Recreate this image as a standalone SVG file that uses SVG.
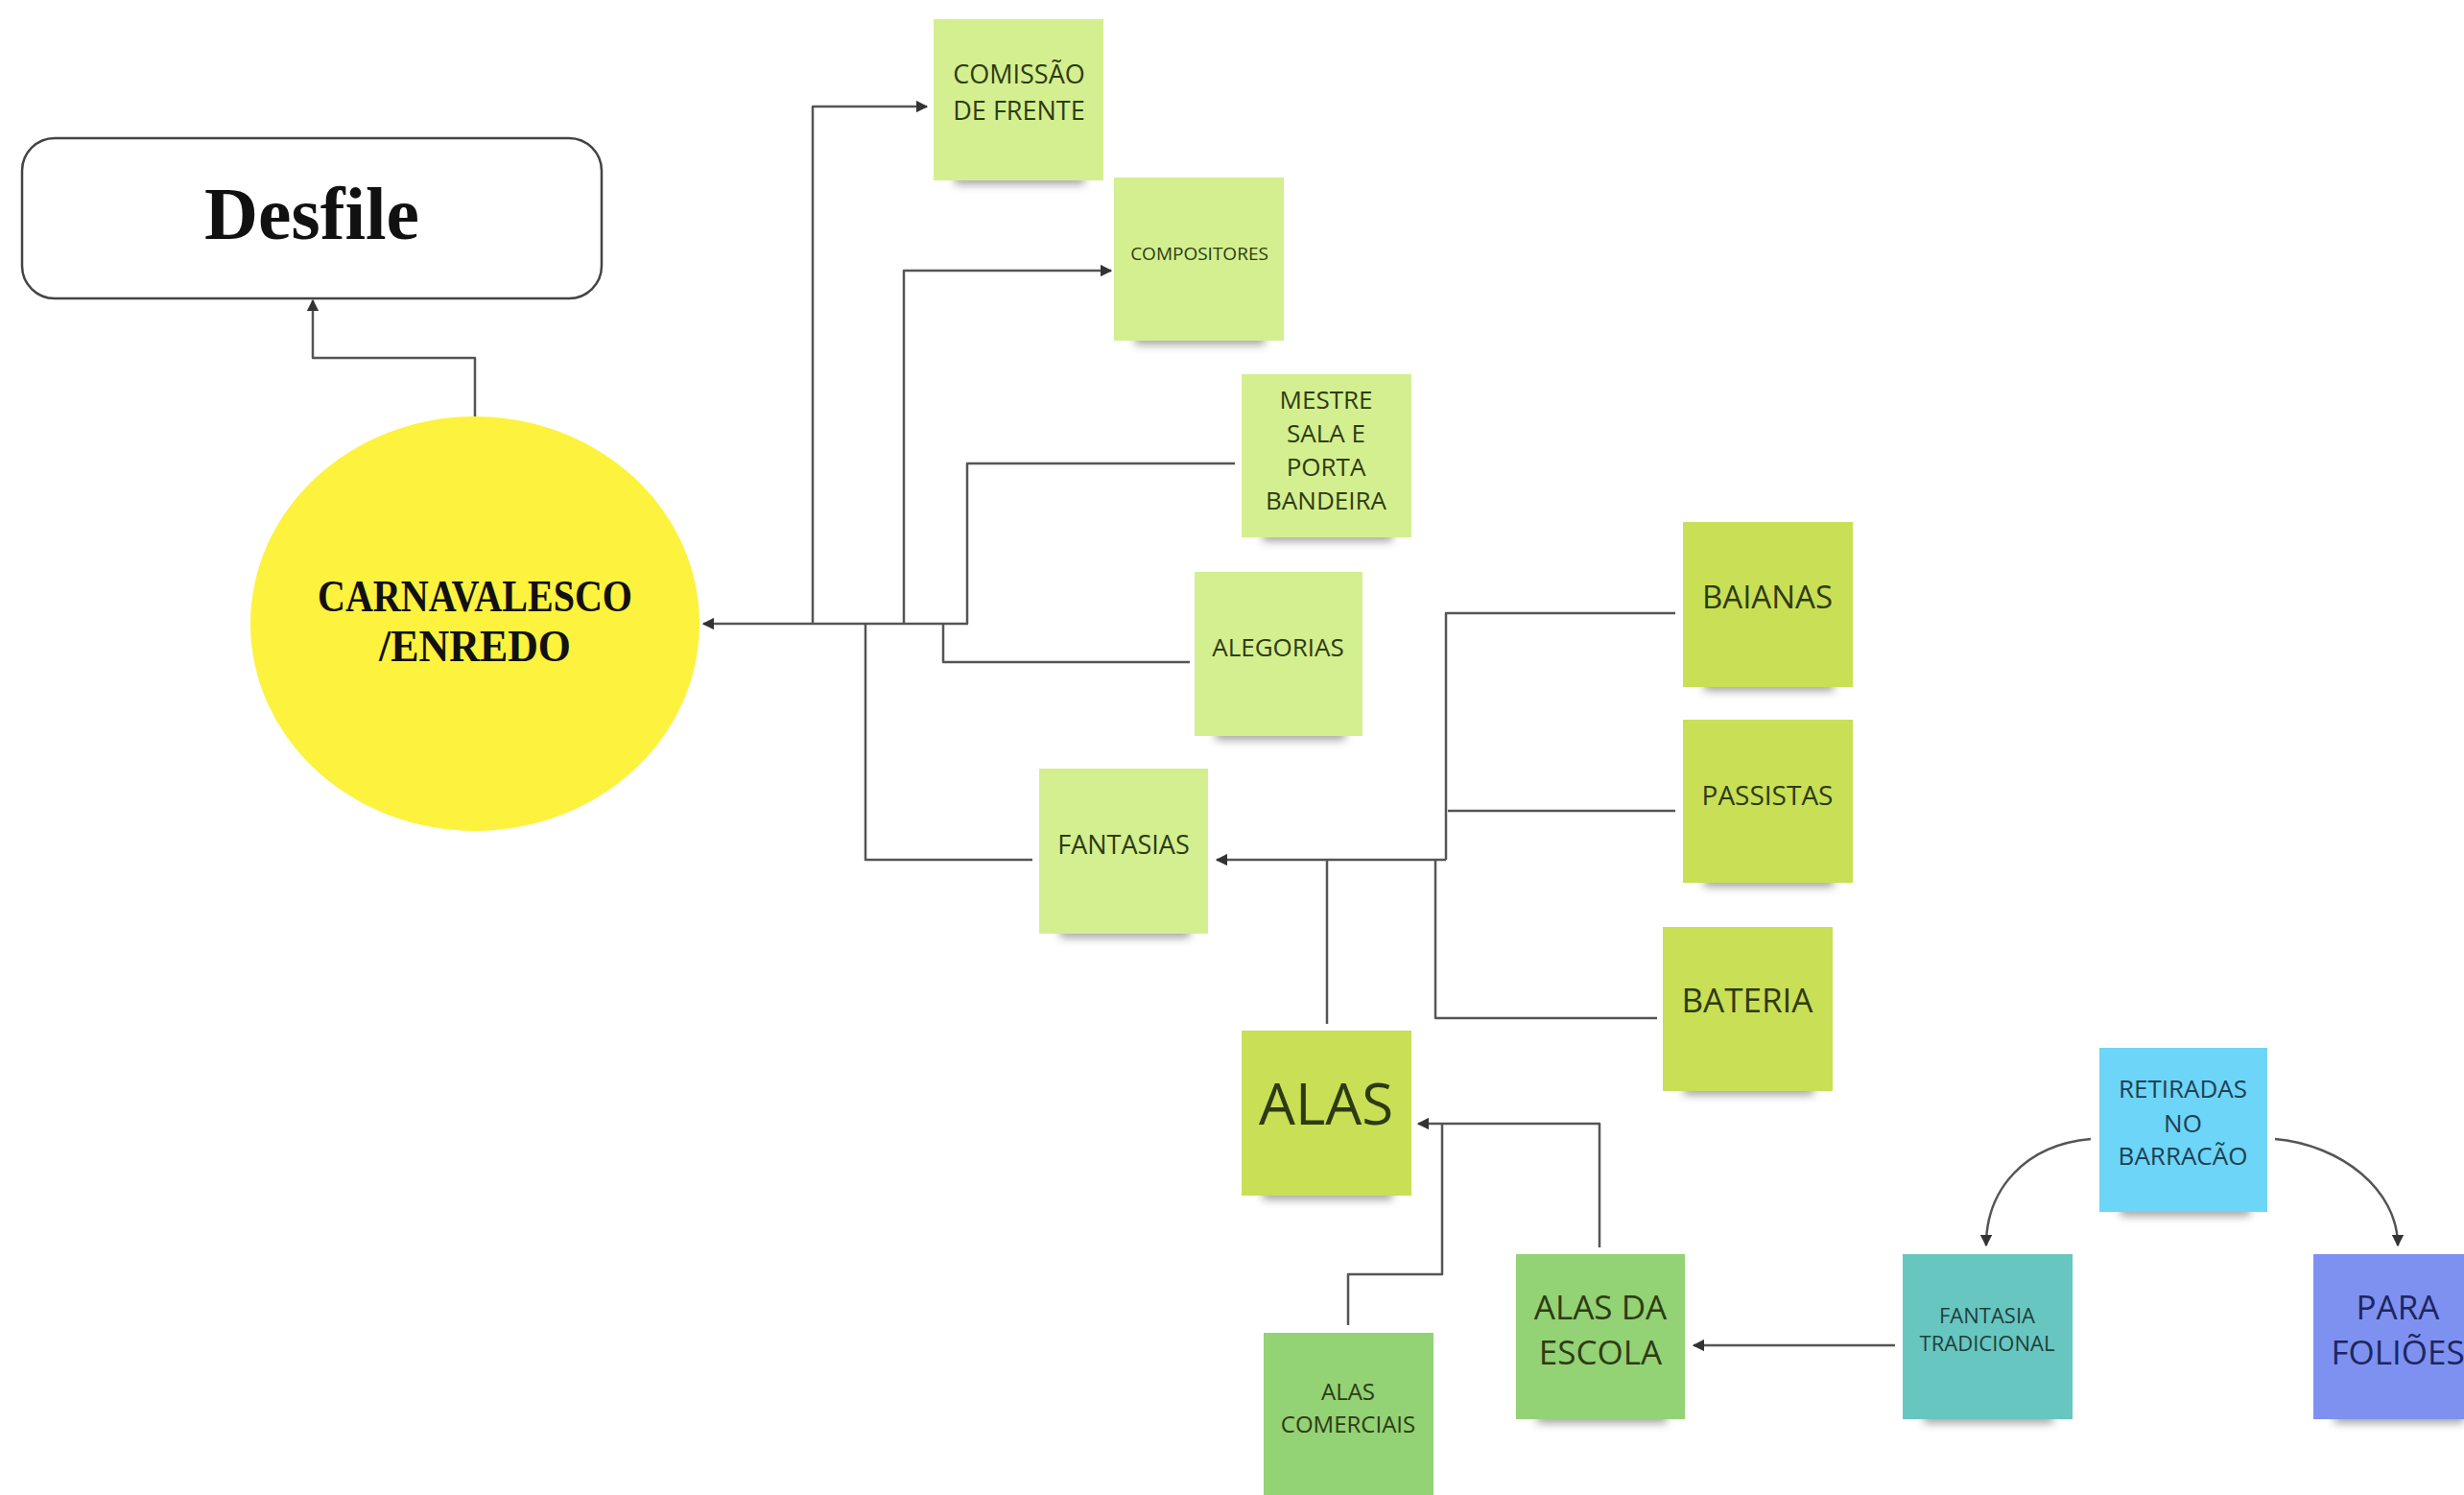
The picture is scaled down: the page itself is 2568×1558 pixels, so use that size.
<svg xmlns="http://www.w3.org/2000/svg" width="2568" height="1558" viewBox="0 0 2568 1558">
<style>
.note text{font-family:"Open Sans","Noto Sans","Liberation Sans",sans-serif;text-anchor:middle;}
.gt{fill:#2e3b12;}
.conn{fill:none;stroke:#555;stroke-width:2.5;stroke-linejoin:round;}
.serif{font-family:"Liberation Serif","DejaVu Serif",serif;font-weight:bold;fill:#111;text-anchor:middle;}
.lg{fill:#d4ef8f;}
.lime{fill:#c9df56;}
.grn{fill:#93d275;}
.teal{fill:#67c6c0;}
.sky{fill:#6dd5f7;}
.peri{fill:#7f91f0;}
.sh{fill:#444;opacity:0.5;filter:url(#blur);}
</style>
<defs>
<filter id="blur" x="-20%" y="-100%" width="140%" height="300%"><feGaussianBlur stdDeviation="5"/></filter>
<marker id="arr" viewBox="0 0 10 10" refX="9" refY="5" markerWidth="5" markerHeight="5" orient="auto" markerUnits="strokeWidth"><path d="M0,0 L10,5 L0,10 z" fill="#333"/></marker>
</defs>
<rect width="2568" height="1558" fill="#ffffff"/>

<g id="connectors">
<path class="conn" d="M495,434 V373 H326 V313" marker-end="url(#arr)"/>
<path class="conn" d="M1009,650 H733" stroke-width="3" marker-end="url(#arr)"/>
<path class="conn" d="M847,650 V111 H966" marker-end="url(#arr)"/>
<path class="conn" d="M942,650 V282 H1158" marker-end="url(#arr)"/>
<path class="conn" d="M1287,483 H1008 V650"/>
<path class="conn" d="M1240,690 H983 V650"/>
<path class="conn" d="M1076,896 H902 V650"/>
<path class="conn" d="M1507,896 H1268" stroke-width="3" marker-end="url(#arr)"/>
<path class="conn" d="M1746,639 H1507 V896"/>
<path class="conn" d="M1746,845 H1509"/>
<path class="conn" d="M1727,1061 H1496 V896"/>
<path class="conn" d="M1383,1067 V896"/>
<path class="conn" d="M1667,1300 V1171 H1478" marker-end="url(#arr)"/>
<path class="conn" d="M1405,1381 V1328 H1503 V1171"/>
<path class="conn" d="M1975,1402 H1765" marker-end="url(#arr)"/>
<path class="conn" d="M2179,1187 C2110,1193 2070,1240 2070,1298" marker-end="url(#arr)"/>
<path class="conn" d="M2371,1187 C2440,1193 2499,1240 2499,1298" marker-end="url(#arr)"/>
</g>

<g id="desfile">
<rect x="23" y="144" width="604" height="167" rx="34" fill="#fff" stroke="#444" stroke-width="2.5"/>
<text class="serif" x="325" y="249" font-size="78" textLength="224" lengthAdjust="spacingAndGlyphs">Desfile</text>
</g>

<g id="carnavalesco">
<ellipse cx="495" cy="650" rx="234" ry="216" fill="#fdf23d"/>
<text class="serif" x="495" y="637" font-size="47" textLength="328" lengthAdjust="spacingAndGlyphs">CARNAVALESCO</text>
<text class="serif" x="495" y="689" font-size="47" textLength="200" lengthAdjust="spacingAndGlyphs">/ENREDO</text>
</g>

<g id="comissao" class="note">
<rect class="sh" x="995" y="178" width="135" height="14"/>
<rect class="lg" x="973" y="20" width="177" height="168"/>
<text class="gt" x="1062" y="87" font-size="27">COMISSÃO</text>
<text class="gt" x="1062" y="125" font-size="27">DE FRENTE</text>
</g>

<g id="compositores" class="note">
<rect class="sh" x="1183" y="345" width="135" height="14"/>
<rect class="lg" x="1161" y="185" width="177" height="170"/>
<text class="gt" x="1250" y="271" font-size="19">COMPOSITORES</text>
</g>

<g id="mestre" class="note">
<rect class="sh" x="1316" y="550" width="135" height="14"/>
<rect class="lg" x="1294" y="390" width="177" height="170"/>
<text class="gt" x="1382" y="426" font-size="26">MESTRE</text>
<text class="gt" x="1382" y="461" font-size="26">SALA E</text>
<text class="gt" x="1382" y="496" font-size="26">PORTA</text>
<text class="gt" x="1382" y="531" font-size="26">BANDEIRA</text>
</g>

<g id="alegorias" class="note">
<rect class="sh" x="1267" y="757" width="135" height="14"/>
<rect class="lg" x="1245" y="596" width="175" height="171"/>
<text class="gt" x="1332" y="684" font-size="26">ALEGORIAS</text>
</g>

<g id="fantasias" class="note">
<rect class="sh" x="1105" y="963" width="135" height="14"/>
<rect class="lg" x="1083" y="801" width="176" height="172"/>
<text class="gt" x="1171" y="890" font-size="27">FANTASIAS</text>
</g>

<g id="baianas" class="note">
<rect class="sh" x="1776" y="706" width="135" height="14"/>
<rect class="lime" x="1754" y="544" width="177" height="172"/>
<text class="gt" x="1842" y="634" font-size="33">BAIANAS</text>
</g>

<g id="passistas" class="note">
<rect class="sh" x="1776" y="910" width="135" height="14"/>
<rect class="lime" x="1754" y="750" width="177" height="170"/>
<text class="gt" x="1842" y="839" font-size="28">PASSISTAS</text>
</g>

<g id="bateria" class="note">
<rect class="sh" x="1755" y="1127" width="135" height="14"/>
<rect class="lime" x="1733" y="966" width="177" height="171"/>
<text class="gt" x="1821" y="1055" font-size="35">BATERIA</text>
</g>

<g id="alas" class="note">
<rect class="sh" x="1316" y="1236" width="135" height="14"/>
<rect class="lime" x="1294" y="1074" width="177" height="172"/>
<text class="gt" x="1382" y="1172" font-size="60" fill="#1e260a">ALAS</text>
</g>

<g id="alas-escola" class="note">
<rect class="sh" x="1602" y="1469" width="135" height="14"/>
<rect class="grn" x="1580" y="1307" width="176" height="172"/>
<text class="gt" x="1668" y="1375" font-size="35">ALAS DA</text>
<text class="gt" x="1668" y="1422" font-size="35">ESCOLA</text>
</g>

<g id="alas-comerciais" class="note">
<rect class="grn" x="1317" y="1389" width="177" height="175"/>
<text class="gt" x="1405" y="1459" font-size="24">ALAS</text>
<text class="gt" x="1405" y="1493" font-size="24">COMERCIAIS</text>
</g>

<g id="fantasia-tradicional" class="note">
<rect class="sh" x="2005" y="1469" width="135" height="14"/>
<rect class="teal" x="1983" y="1307" width="177" height="172"/>
<text x="2071" y="1379" font-size="22" fill="#1f3f3c">FANTASIA</text>
<text x="2071" y="1408" font-size="22" fill="#1f3f3c">TRADICIONAL</text>
</g>

<g id="retiradas" class="note">
<rect class="sh" x="2210" y="1253" width="135" height="14"/>
<rect class="sky" x="2188" y="1092" width="175" height="171"/>
<text x="2275" y="1144" font-size="26" fill="#1e4052">RETIRADAS</text>
<text x="2275" y="1180" font-size="26" fill="#1e4052">NO</text>
<text x="2275" y="1214" font-size="26" fill="#1e4052">BARRACÃO</text>
</g>

<g id="para-folioes" class="note">
<rect class="sh" x="2433" y="1469" width="135" height="14"/>
<rect class="peri" x="2411" y="1307" width="177" height="172"/>
<text x="2499" y="1375" font-size="35" fill="#1c2660">PARA</text>
<text x="2499" y="1422" font-size="35" fill="#1c2660">FOLIÕES</text>
</g>
</svg>
